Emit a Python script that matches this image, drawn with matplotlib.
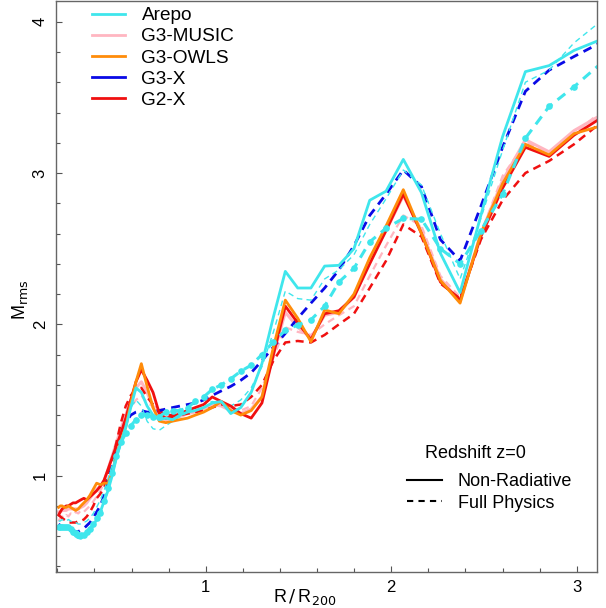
import matplotlib
matplotlib.use("Agg")
import matplotlib.pyplot as plt
from matplotlib.lines import Line2D

plt.rcParams['font.family'] = ['Liberation Sans', 'DejaVu Sans']

# R/R200 bin centres (log spaced)
r_bins = [0.207, 0.216, 0.226, 0.237, 0.248, 0.260, 0.272, 0.285, 0.299, 0.313,
          0.327, 0.343, 0.359, 0.376, 0.394, 0.412, 0.432, 0.452, 0.473, 0.496,
          0.519, 0.543, 0.569, 0.596, 0.624, 0.653, 0.684, 0.716, 0.750, 0.785,
          0.822, 0.861, 0.902, 0.944, 0.989, 1.035, 1.084, 1.135, 1.189, 1.245,
          1.303, 1.365, 1.429, 1.496, 1.567, 1.641, 1.718, 1.799, 1.884, 1.972,
          2.065, 2.163, 2.265, 2.371, 2.483, 2.600, 2.723, 2.851, 2.985, 3.126]

# Mach rms profiles
arepo_nr = [0.66, 0.66, 0.67, 0.66, 0.66, 0.65, 0.64, 0.62, 0.60, 0.59,
            0.585, 0.60, 0.62, 0.64, 0.67, 0.71, 0.76, 0.83, 0.90, 1.00,
            1.12, 1.22, 1.32, 1.45, 1.58, 1.55, 1.46, 1.40, 1.37, 1.38,
            1.37, 1.40, 1.42, 1.43, 1.45, 1.48, 1.49, 1.41, 1.45, 1.55,
            1.74, 2.05, 2.35, 2.24, 2.24, 2.385, 2.39, 2.50, 2.82, 2.88,
            3.09, 2.87, 2.47, 2.21, 2.72, 3.24, 3.67, 3.71, 3.81, 3.88]

arepo_fp = [0.66, 0.66, 0.66, 0.66, 0.66, 0.66, 0.65, 0.63, 0.62, 0.61,
            0.605, 0.61, 0.63, 0.65, 0.68, 0.72, 0.75, 0.83, 0.92, 1.02,
            1.13, 1.22, 1.28, 1.33, 1.37, 1.40, 1.40, 1.39, 1.39, 1.42,
            1.43, 1.43, 1.45, 1.49, 1.52, 1.57, 1.60, 1.64, 1.69, 1.73,
            1.80, 1.885, 1.96, 1.995, 2.03, 2.12, 2.28, 2.37, 2.545, 2.635,
            2.70, 2.695, 2.50, 2.40, 2.62, 2.86, 3.23, 3.44, 3.57, 3.72]

arepo_fp2 = [0.70, 0.70, 0.71, 0.70, 0.70, 0.71, 0.70, 0.69, 0.69, 0.68,
             0.68, 0.69, 0.70, 0.72, 0.75, 0.79, 0.84, 0.90, 0.98, 1.07,
             1.17, 1.27, 1.37, 1.45, 1.50, 1.46, 1.36, 1.31, 1.30, 1.33,
             1.36, 1.39, 1.42, 1.45, 1.47, 1.49, 1.48, 1.46, 1.50, 1.58,
             1.72, 1.95, 2.22, 2.17, 2.16, 2.30, 2.36, 2.46, 2.66, 2.83,
             3.02, 2.92, 2.60, 2.30, 2.70, 3.15, 3.60, 3.68, 3.86, 4.00]

music_nr = [0.76, 0.76, 0.77, 0.77, 0.77, 0.78, 0.78, 0.78, 0.78, 0.78,
            0.79, 0.80, 0.82, 0.85, 0.88, 0.91, 0.93, 0.96, 1.04, 1.13,
            1.22, 1.31, 1.40, 1.50, 1.58, 1.62, 1.55, 1.45, 1.38, 1.37,
            1.38, 1.39, 1.41, 1.42, 1.44, 1.47, 1.46, 1.43, 1.41, 1.44,
            1.52, 1.80, 2.08, 1.98, 1.91, 2.06, 2.08, 2.18, 2.42, 2.62,
            2.85, 2.62, 2.30, 2.15, 2.60, 2.95, 3.22, 3.14, 3.28, 3.38]

music_fp = [0.70, 0.72, 0.73, 0.72, 0.74, 0.73, 0.75, 0.74, 0.76, 0.75,
            0.77, 0.76, 0.78, 0.80, 0.83, 0.86, 0.90, 0.95, 1.03, 1.12,
            1.22, 1.31, 1.39, 1.45, 1.50, 1.53, 1.48, 1.46, 1.44, 1.43,
            1.42, 1.42, 1.43, 1.44, 1.45, 1.47, 1.47, 1.45, 1.43, 1.46,
            1.58, 1.78, 1.98, 1.95, 1.93, 2.00, 2.06, 2.12, 2.32, 2.52,
            2.72, 2.65, 2.32, 2.18, 2.60, 2.98, 3.20, 3.14, 3.26, 3.40]

owls_nr = [0.79, 0.80, 0.80, 0.79, 0.79, 0.80, 0.79, 0.78, 0.77, 0.78,
           0.80, 0.82, 0.84, 0.87, 0.91, 0.95, 0.94, 0.95, 0.95, 1.02,
           1.13, 1.23, 1.32, 1.48, 1.62, 1.74, 1.59, 1.45, 1.36, 1.35,
           1.36, 1.37, 1.38, 1.40, 1.42, 1.45, 1.49, 1.43, 1.40, 1.43,
           1.52, 1.85, 2.16, 2.04, 1.885, 2.095, 2.07, 2.20, 2.44, 2.65,
           2.89, 2.60, 2.29, 2.14, 2.60, 2.93, 3.19, 3.12, 3.26, 3.31]

g3x_fp = [0.68, 0.67, 0.66, 0.65, 0.65, 0.65, 0.65, 0.64, 0.63, 0.63,
          0.64, 0.65, 0.67, 0.69, 0.72, 0.76, 0.80, 0.87, 0.96, 1.06,
          1.16, 1.26, 1.35, 1.40, 1.42, 1.43, 1.42, 1.42, 1.43, 1.44,
          1.45, 1.46, 1.47, 1.48, 1.50, 1.53, 1.56, 1.59, 1.63, 1.68,
          1.76, 1.85, 1.94, 2.04, 2.14, 2.24, 2.36, 2.52, 2.72, 2.86,
          3.02, 2.91, 2.56, 2.42, 2.78, 3.17, 3.54, 3.68, 3.77, 3.86]

g2x_nr = [0.74, 0.76, 0.78, 0.79, 0.80, 0.80, 0.81, 0.82, 0.82, 0.83,
          0.84, 0.85, 0.84, 0.86, 0.88, 0.90, 0.93, 0.97, 1.04, 1.12,
          1.20, 1.28, 1.38, 1.50, 1.62, 1.70, 1.63, 1.55, 1.41, 1.38,
          1.39, 1.41, 1.43, 1.45, 1.47, 1.52, 1.49, 1.46, 1.41, 1.38,
          1.48, 1.80, 2.12, 2.01, 1.90, 2.07, 2.09, 2.18, 2.40, 2.62,
          2.86, 2.60, 2.28, 2.16, 2.58, 2.90, 3.17, 3.11, 3.25, 3.36]

g2x_fp = [0.74, 0.73, 0.72, 0.71, 0.70, 0.69, 0.69, 0.69, 0.69, 0.70,
          0.70, 0.71, 0.73, 0.76, 0.80, 0.85, 0.88, 0.92, 1.00, 1.10,
          1.22, 1.35, 1.46, 1.53, 1.57, 1.58, 1.52, 1.47, 1.43, 1.40,
          1.40, 1.40, 1.41, 1.42, 1.43, 1.45, 1.47, 1.46, 1.47, 1.52,
          1.60, 1.76, 1.88, 1.89, 1.88, 1.93, 2.00, 2.07, 2.24, 2.42,
          2.66, 2.58, 2.27, 2.17, 2.56, 2.82, 3.00, 3.08, 3.19, 3.33]

codes = ["Arepo", "G3-MUSIC", "G3-OWLS", "G3-X", "G2-X"]
cols = {"Arepo": "#3fe6ec", "G3-MUSIC": "#ffb6c1", "G3-OWLS": "#ff8c0a",
        "G3-X": "#0a0ae6", "G2-X": "#f01010"}

fig = plt.figure(figsize=(6.06, 6.08), dpi=100)
ax = fig.add_axes([56 / 606, 1 - 572 / 608, 541 / 606, 571 / 608])

dash = (3.2, 2.2)
ax.plot(r_bins, music_fp, color=cols["G3-MUSIC"], lw=1.6, dashes=dash)
ax.plot(r_bins, music_nr, color=cols["G3-MUSIC"], lw=2.2)
ax.plot(r_bins, g2x_fp, color=cols["G2-X"], lw=1.8, dashes=dash)
ax.plot(r_bins, g3x_fp, color=cols["G3-X"], lw=2.0, dashes=dash)
ax.plot(r_bins, arepo_fp2, color=cols["Arepo"], lw=1.0, dashes=(4, 3))
ax.plot(r_bins, g2x_nr, color=cols["G2-X"], lw=2.0)
ax.plot(r_bins, owls_nr, color=cols["G3-OWLS"], lw=2.0)
ax.plot(r_bins, arepo_fp, color=cols["Arepo"], lw=2.2, dashes=dash,
        marker='o', ms=4.8, mew=0)
ax.plot(r_bins, arepo_nr, color=cols["Arepo"], lw=2.0)

ax.set_xlim(0.193, 3.109)
ax.set_ylim(0.363, 4.137)

ax.set_xticks([1, 2, 3])
ax.set_xticks([0.2, 0.4, 0.6, 0.8, 1.2, 1.4, 1.6, 1.8, 2.2, 2.4, 2.6, 2.8, 3.0], minor=True)
ax.set_yticks([1, 2, 3, 4])
ax.set_yticks([0.4, 0.6, 0.8, 1.2, 1.4, 1.6, 1.8, 2.2, 2.4, 2.6, 2.8,
               3.2, 3.4, 3.6, 3.8, 4.0], minor=True)
ax.set_yticklabels(["1", "2", "3", "4"], rotation=90, va='center')
ax.tick_params(which='both', direction='in', colors='#555555', labelcolor='black',
               labelsize=12)
ax.tick_params(which='major', length=4.5, width=0.8, pad=6)
ax.tick_params(which='minor', length=3, width=0.8)
for s in ax.spines.values():
    s.set_color('#666666')
    s.set_linewidth(1.0)

fig.text(305 / 606, 1 - 597 / 608, r"R$\,/\,$R$_{200}$", ha='center', va='center',
         fontsize=13)
fig.text(20 / 606, 1 - 300 / 608, r"M$_{\rm rms}$", ha='center', va='center',
         rotation=90, fontsize=13)

h1 = [Line2D([], [], color=cols[c], lw=2) for c in codes]
leg1 = ax.legend(h1, codes, loc='upper left', bbox_to_anchor=(92 / 606, 1 - 7 / 608),
                 bbox_transform=fig.transFigure, frameon=False, fontsize=13.7,
                 handlelength=1.75, handletextpad=0.85, labelspacing=0.2,
                 borderpad=0, borderaxespad=0)
ax.add_artist(leg1)

fig.text(475 / 606, 1 - 453 / 608, "Redshift z=0", ha='center', va='center',
         fontsize=13)
h2 = [Line2D([], [], color='black', lw=1.5),
      Line2D([], [], color='black', lw=1.5, dashes=(3, 2.5))]
ax.legend(h2, ["Non-Radiative", "Full Physics"],
          loc='upper left', bbox_to_anchor=(407 / 606, 1 - 473 / 608),
          bbox_transform=fig.transFigure, frameon=False, fontsize=13,
          handlelength=1.95, handletextpad=0.85, labelspacing=0.25,
          borderpad=0, borderaxespad=0)

plt.savefig("out.png", dpi=100)
